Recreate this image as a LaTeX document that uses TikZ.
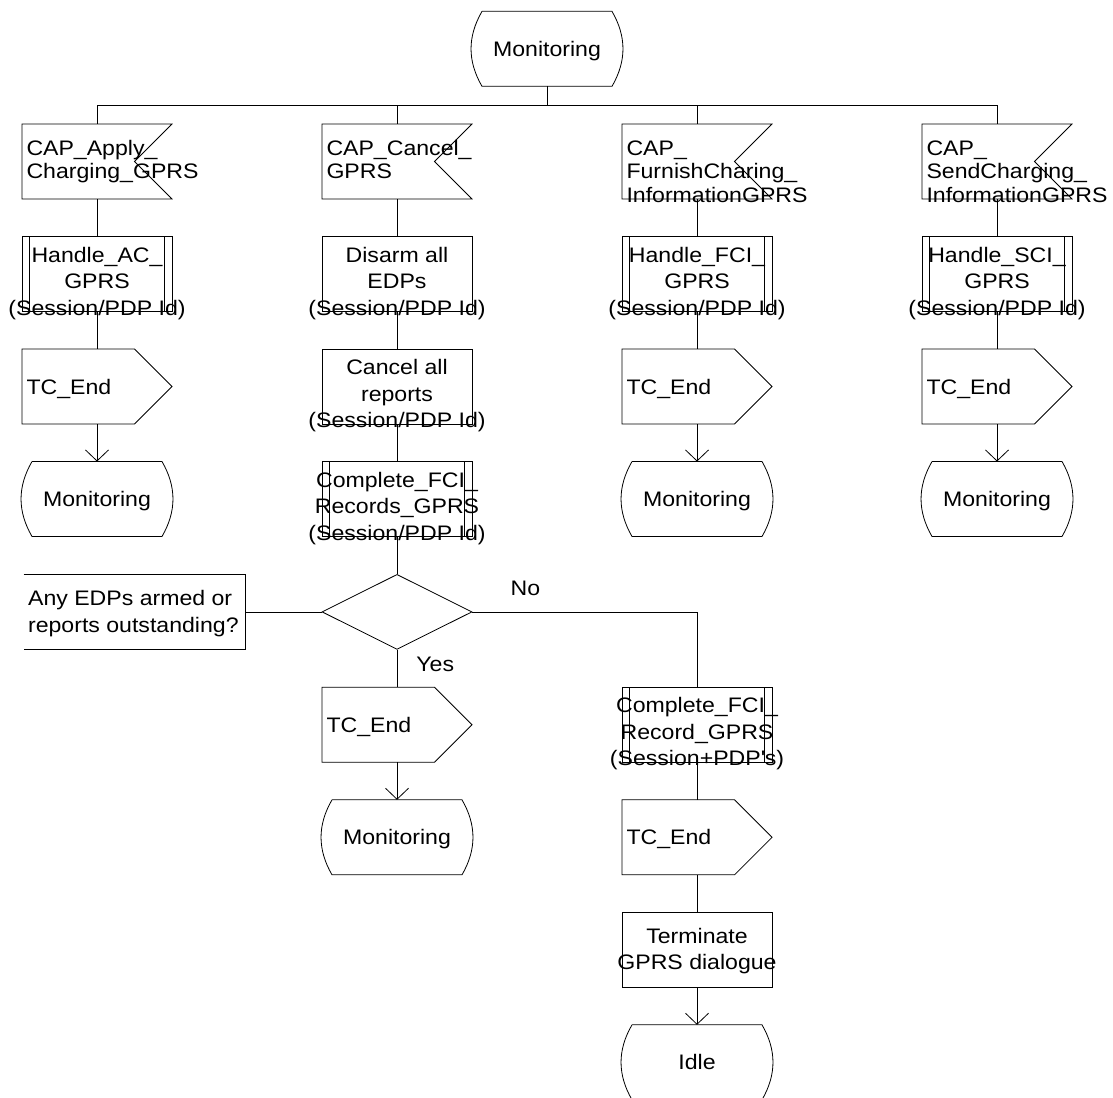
\documentclass[tikz,border=0pt]{standalone}
\usepackage{fontspec}
\setmainfont{Liberation Sans}[FakeStretch=1.1]
\usetikzlibrary{arrows.meta, positioning, shapes.geometric, calc}

\newcommand{\boxtext}[2][12pt]{\makebox[0pt]{\smash{\raisebox{#1}{\begin{tabular}[t]{@{}c@{}}#2\end{tabular}}}}}
\newcommand{\sigtext}[1]{\makebox[150pt][l]{\hspace{4.5pt}\smash{\raisebox{6.5pt}{\begin{tabular}[t]{@{}l@{}}#1\end{tabular}}}}}
\newcommand{\outtext}[1]{\makebox[150pt][l]{\hspace{4.5pt}\smash{\raisebox{-7.5pt}{#1}}}}
\newcommand{\notetext}[1]{\makebox[222pt][l]{\hspace{4.5pt}\smash{\raisebox{6pt}{\begin{tabular}[t]{@{}l@{}}#1\end{tabular}}}}}

\begin{document}
\begin{tikzpicture}[x=1pt, y=-1pt, node distance=37.5pt,
  font=\fontsize{21}{26.5}\selectfont, line width=0.8pt,
  sdl/.style={minimum width=150pt, minimum height=75pt, inner sep=0pt, outer sep=0pt},
  state/.style={sdl, append after command={\pgfextra{
      \draw ([xshift=10pt]\tikzlastnode.north west) -- ([xshift=-10pt]\tikzlastnode.north east)
        to[bend left=30] ([xshift=-10pt]\tikzlastnode.south east)
        -- ([xshift=10pt]\tikzlastnode.south west)
        to[bend left=30] ([xshift=10pt]\tikzlastnode.north west);}}},
  insig/.style={sdl, font=\fontsize{21}{23.5}\selectfont, append after command={\pgfextra{
      \draw (\tikzlastnode.north west) -- (\tikzlastnode.north east)
        -- ([xshift=-37.5pt]\tikzlastnode.east) -- (\tikzlastnode.south east)
        -- (\tikzlastnode.south west) -- cycle;}}},
  outsig/.style={sdl, append after command={\pgfextra{
      \draw (\tikzlastnode.north west) -- ([xshift=-37.5pt]\tikzlastnode.north east)
        -- (\tikzlastnode.east) -- ([xshift=-37.5pt]\tikzlastnode.south east)
        -- (\tikzlastnode.south west) -- cycle;}}},
  task/.style={sdl, draw},
  proc/.style={sdl, draw, append after command={\pgfextra{
      \draw ([xshift=7.5pt]\tikzlastnode.north west) -- ([xshift=7.5pt]\tikzlastnode.south west);
      \draw ([xshift=-7.5pt]\tikzlastnode.north east) -- ([xshift=-7.5pt]\tikzlastnode.south east);}}},
  decision/.style={diamond, draw, minimum width=150pt, minimum height=75pt, inner sep=0pt},
  note/.style={sdl, minimum width=222pt, append after command={\pgfextra{
      \draw (\tikzlastnode.north west) -- (\tikzlastnode.north east)
        -- (\tikzlastnode.south east) -- (\tikzlastnode.south west);}}},
  lbl/.style={inner sep=0pt},
  arr/.style={-{Straight Barb[length=11pt, width=23pt]}}]

  \useasboundingbox (0,0) rectangle (1113,1097);

  \node[state] (mon0) at (547,48.85) {\boxtext[-7.5pt]{Monitoring}};
  \coordinate (bus) at (0,105);

  \node[insig]                    (in1) at (97,161.5) {\sigtext{CAP\_Apply\_\\Charging\_GPRS}};
  \node[insig, right=150pt of in1] (in2) {\sigtext{CAP\_Cancel\_\\GPRS}};
  \node[insig, right=150pt of in2] (in3) {\sigtext{CAP\_\\FurnishCharing\_\\InformationGPRS}};
  \node[insig, right=150pt of in3] (in4) {\sigtext{CAP\_\\SendCharging\_\\InformationGPRS}};

  \node[proc, below=of in1]  (ac1)  {\boxtext{Handle\_AC\_\\GPRS\\(Session/PDP Id)}};
  \node[outsig, below=of ac1] (out1) {\outtext{TC\_End}};
  \node[state, below=of out1] (mon1) {\boxtext[-7.5pt]{Monitoring}};

  \node[task, below=of in2]  (dis2) {\boxtext{Disarm all\\EDPs\\(Session/PDP Id)}};
  \node[task, below=of dis2] (can2) {\boxtext{Cancel all\\reports\\(Session/PDP Id)}};
  \node[proc, below=of can2] (rec2) {\boxtext{Complete\_FCI\_\\Records\_GPRS\\(Session/PDP Id)}};
  \node[decision, below=of rec2] (dec) {};
  \node[note, left=76pt of dec] (com) {\notetext{Any EDPs armed or\\reports outstanding?}};
  \node[outsig, below=of dec] (out2) {\outtext{TC\_End}};
  \node[state, below=of out2] (mon2) {\boxtext[-7.5pt]{Monitoring}};

  \node[proc, below=of in3]  (fci3) {\boxtext{Handle\_FCI\_\\GPRS\\(Session/PDP Id)}};
  \node[outsig, below=of fci3] (out3) {\outtext{TC\_End}};
  \node[state, below=of out3] (mon3) {\boxtext[-7.5pt]{Monitoring}};

  \node[proc, below=of in4]  (sci4) {\boxtext{Handle\_SCI\_\\GPRS\\(Session/PDP Id)}};
  \node[outsig, below=of sci4] (out4) {\outtext{TC\_End}};
  \node[state, below=of out4] (mon4) {\boxtext[-7.5pt]{Monitoring}};

  \node[proc] (rec3) at (in3 |- out2) {\boxtext{Complete\_FCI\_\\Record\_GPRS\\(Session+PDP\textquotesingle s)}};
  \node[outsig, below=of rec3] (out5) {\outtext{TC\_End}};
  \node[task, below=of out5]   (term) {\boxtext[6.5pt]{Terminate\\GPRS dialogue}};
  \node[state, below=of term]  (idle) {\boxtext[-7.5pt]{Idle}};

  \draw (mon0) -- (mon0 |- bus);
  \draw (in1.north) |- (in4.north |- bus) -- (in4.north);
  \draw (in2.north) -- (in2.north |- bus);
  \draw (in3.north) -- (in3.north |- bus);

  \draw (in1) -- (ac1);  \draw (ac1) -- (out1);  \draw[arr] (out1) -- (mon1);
  \draw (in3) -- (fci3); \draw (fci3) -- (out3); \draw[arr] (out3) -- (mon3);
  \draw (in4) -- (sci4); \draw (sci4) -- (out4); \draw[arr] (out4) -- (mon4);

  \draw (in2) -- (dis2); \draw (dis2) -- (can2); \draw (can2) -- (rec2);
  \draw (rec2) -- (dec);
  \draw (com) -- (dec);
  \draw (dec) -- node[lbl, pos=0.4, right=19pt] (yes) {Yes} (out2);
  \draw[arr] (out2) -- (mon2);
  \draw (dec) -| node[lbl, pos=0.118, above=16pt] (no) {No} (rec3);
  \draw (rec3) -- (out5); \draw (out5) -- (term); \draw[arr] (term) -- (idle);
\end{tikzpicture}
\end{document}
